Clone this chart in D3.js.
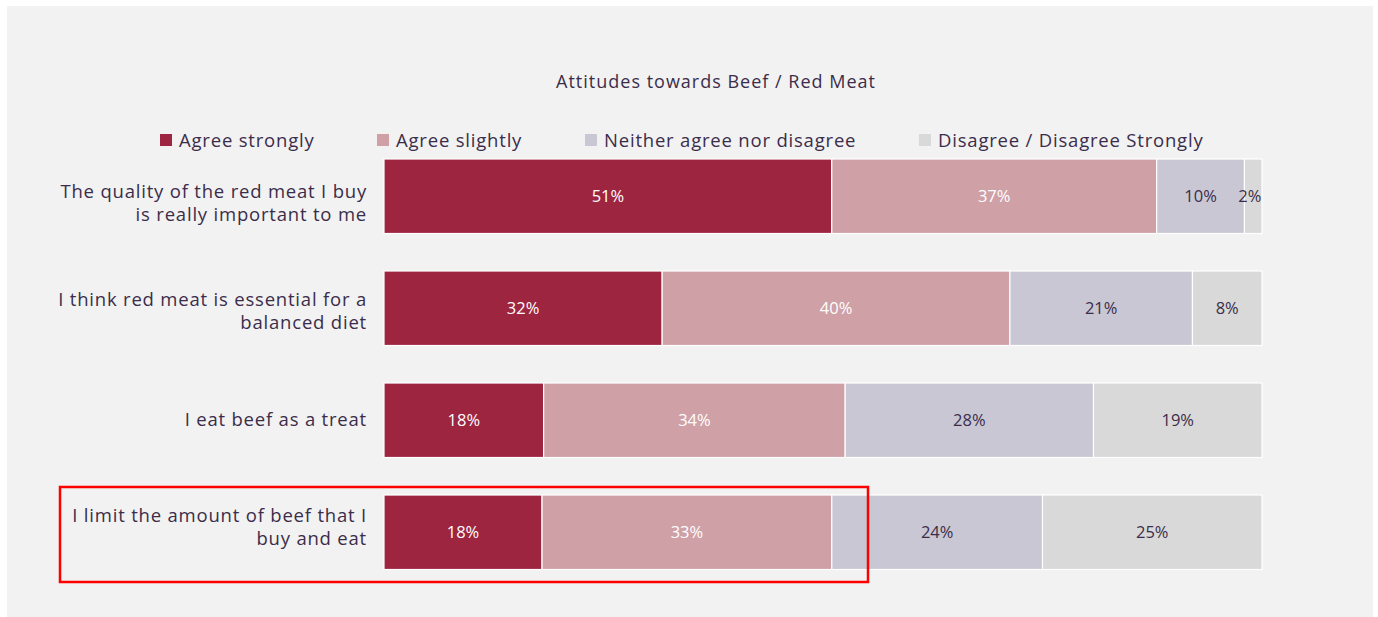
<!DOCTYPE html>
<html>
<head>
<meta charset="utf-8">
<script src="https://cdn.jsdelivr.net/npm/d3@7/dist/d3.min.js"></script>
<style>
  html, body { margin: 0; padding: 0; background: #ffffff; }
  svg { display: block; }
  text { font-family: "Open Sans", "Noto Sans", sans-serif; }
</style>
</head>
<body>
<svg id="chart" width="1378" height="617"></svg>
<script>
// Survey statements (two-line labels) and response shares in percent
const statements = [
  ["The quality of the red meat I buy", "is really important to me"],
  ["I think red meat is essential for a", "balanced diet"],
  ["I eat beef as a treat"],
  ["I limit the amount of beef that I", "buy and eat"]
];
const seriesNames = ["Agree strongly", "Agree slightly", "Neither agree nor disagree", "Disagree / Disagree Strongly"];
const agreeStrongly = [51, 32, 18, 18];
const agreeSlightly = [37, 40, 34, 33];
const neither       = [10, 21, 28, 24];
const disagree      = [2, 8, 19, 25];

const colors = ["#9e2540", "#cfa0a6", "#c9c7d4", "#d9d9d9"];
const labelColors = ["#ffffff", "#ffffff", "#3b2d4a", "#3b2d4a"];
const textColor = "#3b2d4a";

const svg = d3.select("#chart");
const W = 1378, H = 617;

// Panel background
svg.append("rect").attr("x", 7).attr("y", 6).attr("width", 1366).attr("height", H - 6)
  .attr("fill", "#f2f2f2");

// Title
svg.append("text").attr("x", 716).attr("y", 88).attr("text-anchor", "middle")
  .attr("font-size", 18).attr("letter-spacing", 1).attr("fill", textColor)
  .text("Attitudes towards Beef / Red Meat");

// Legend
const legendX = [160, 377, 585, 919];
const legend = svg.append("g");
seriesNames.forEach((name, i) => {
  legend.append("rect").attr("x", legendX[i]).attr("y", 134).attr("width", 12).attr("height", 12)
    .attr("fill", colors[i]);
  legend.append("text").attr("x", legendX[i] + 19).attr("y", 147)
    .attr("font-size", 18.5).attr("letter-spacing", 0.8).attr("fill", textColor).text(name);
});

// Build stacked, row-normalised data
const rows = statements.map((s, i) => {
  const vals = [agreeStrongly[i], agreeSlightly[i], neither[i], disagree[i]];
  const total = d3.sum(vals);
  let acc = 0;
  return vals.map((v, k) => {
    const seg = { row: i, key: k, value: v, x0: acc / total, x1: (acc + v) / total };
    acc += v;
    return seg;
  });
});

const x = d3.scaleLinear().domain([0, 1]).range([384, 1262]);
const y = d3.scaleBand().domain(d3.range(statements.length)).range([159, 569.5]).paddingInner(0.335).paddingOuter(0);
// Category label centres
const yLabel = d3.scalePoint().domain(d3.range(statements.length)).range([203.5, 527.5]);

const bars = svg.append("g");
rows.forEach(segs => {
  segs.forEach(d => {
    bars.append("rect")
      .attr("x", x(d.x0)).attr("y", y(d.row))
      .attr("width", x(d.x1) - x(d.x0)).attr("height", y.bandwidth())
      .attr("fill", colors[d.key]).attr("stroke", "#ffffff").attr("stroke-width", 1.2);
    const end = x(d.x1);
    let cx = (x(d.x0) + x(d.x1)) / 2;
    const label = d.value + "%";
    const half = label.length * 4.6;
    if (cx + half > end - 2) cx = end - 3 - half;
    bars.append("text")
      .attr("x", cx).attr("y", y(d.row) + y.bandwidth() / 2 + 6)
      .attr("text-anchor", "middle").attr("font-size", 16.5)
      .attr("fill", labelColors[d.key]).text(label);
  });
});

// Category labels
statements.forEach((lines, i) => {
  const cy = yLabel(i);
  const t = svg.append("text").attr("text-anchor", "end").attr("font-size", 18.5)
    .attr("letter-spacing", 0.8).attr("fill", textColor);
  const startY = cy - (lines.length - 1) * 11.5 + 6;
  lines.forEach((ln, j) => {
    t.append("tspan").attr("x", 367).attr("y", startY + j * 23).text(ln);
  });
});

// Highlight box around the last statement
svg.append("rect").attr("x", 60).attr("y", 487).attr("width", 808).attr("height", 95)
  .attr("fill", "none").attr("stroke", "#ff0000").attr("stroke-width", 2.5);
</script>
</body>
</html>
